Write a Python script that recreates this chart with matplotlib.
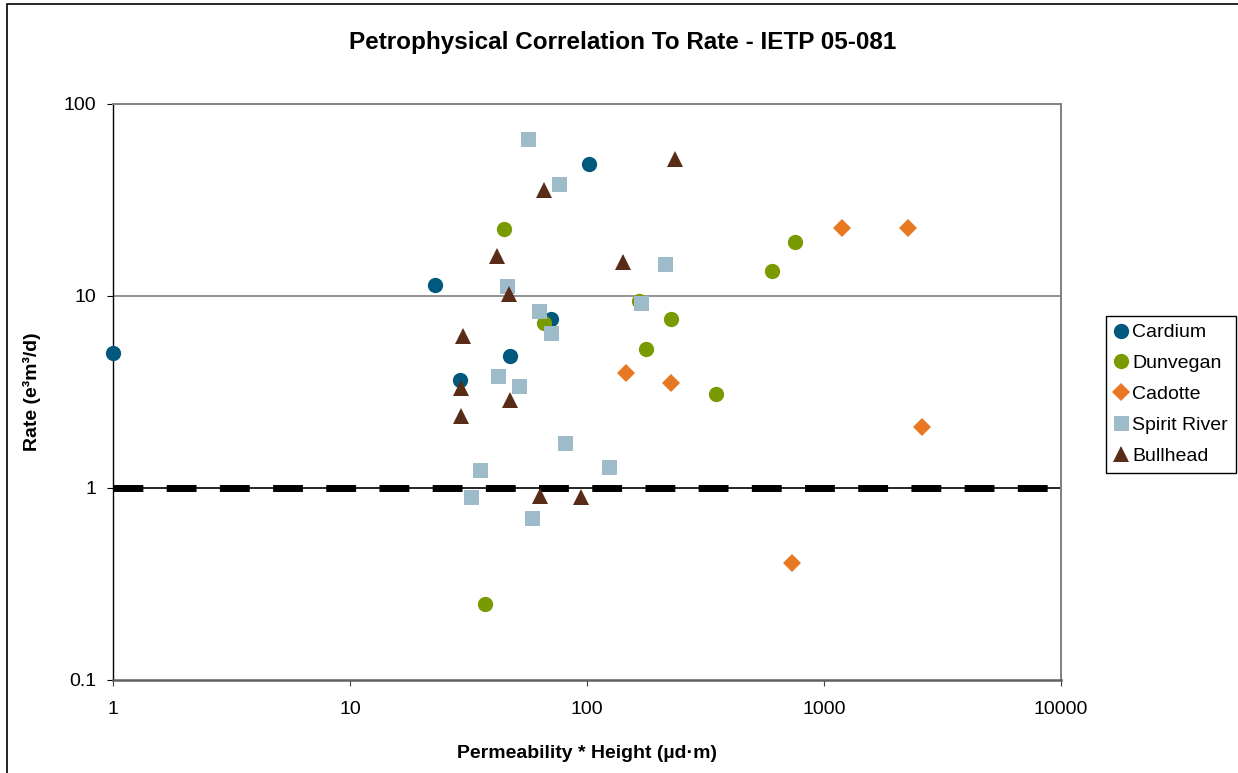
import numpy as np
import matplotlib
matplotlib.use("Agg")
import matplotlib.pyplot as plt
from matplotlib.patches import Rectangle

plt.rcParams['font.family'] = ['Liberation Sans', 'DejaVu Sans']

# (kh in ud-m, rate in e3m3/d)
cardium_x = [1.0, 22.8, 29.1, 47.3, 70.5, 102]
cardium_y = [5.05, 11.4, 3.65, 4.87, 7.59, 48.7]

dunvegan_x = [44.8, 65.9, 166, 226, 177, 350, 604, 755, 37.1]
dunvegan_y = [22.3, 7.23, 9.42, 7.59, 5.3, 3.09, 13.5, 19.1, 0.249]

cadotte_x = [146, 226, 733, 1191, 2262, 2592]
cadotte_y = [3.97, 3.52, 0.407, 22.6, 22.6, 2.08]

spirit_x = [56.4, 76.2, 46.0, 213, 169, 62.7, 70.5, 42.1, 51.6, 80.8, 35.4, 124, 32.4, 58.6]
spirit_y = [65.7, 38.3, 11.3, 14.7, 9.2, 8.36, 6.42, 3.83, 3.40, 1.72, 1.24, 1.29, 0.898, 0.698]

bull_x = [235, 65.9, 41.7, 142, 46.9, 30.0, 29.4, 47.3, 29.4, 63.4, 94.3]
bull_y = [51.7, 35.6, 16.2, 15.0, 10.2, 6.19, 3.32, 2.87, 2.37, 0.909, 0.898]

cutoff_x = [1, 10000]
cutoff_y = [1, 1]

xticks = [1, 10, 100, 1000, 10000]
yticks = [0.1, 1, 10, 100]

W, H = 1238, 773
fig = plt.figure(figsize=(W / 100, H / 100), dpi=100)
ax = fig.add_axes([113 / W, 1 - 680 / H, 948 / W, 576 / H])

# outer chart border (only left and top show)
fig.patches.append(Rectangle((7 / W, -0.1), 1.2, 1.1 - 4 / H, transform=fig.transFigure,
                             fill=False, edgecolor='black', linewidth=1.2))

ax.set_xscale('log')
ax.set_yscale('log')
ax.set_xlim(1, 10000)
ax.set_ylim(0.1, 100)

for y in [10]:
    ax.axhline(y, color='#808080', linewidth=1.2, zorder=1)

# 1 e3m3/d cutoff line
ax.plot(cutoff_x, cutoff_y, color='black', linewidth=1.2, zorder=2)
ax.plot([1, 9000], cutoff_y, color='black', linewidth=5.0, linestyle=(0, (4.3, 3.36)),
        solid_capstyle='butt', dash_capstyle='butt', zorder=2)

ax.plot(cardium_x, cardium_y, 'o', color='#00587C', markersize=11, markeredgewidth=0,
        label='Cardium', zorder=3, clip_on=False)
ax.plot(dunvegan_x, dunvegan_y, 'o', color='#7A9A01', markersize=11, markeredgewidth=0,
        label='Dunvegan', zorder=3)
ax.plot(cadotte_x, cadotte_y, 'D', color='#E87722', markersize=9.6, markeredgewidth=0,
        label='Cadotte', zorder=3)
ax.plot(spirit_x, spirit_y, 's', color='#9DBBC9', markersize=10.8, markeredgewidth=0,
        label='Spirit River', zorder=3)
ax.plot(bull_x, bull_y, '^', color='#582C17', markersize=12, markeredgewidth=0,
        label='Bullhead', zorder=3)

ax.set_xticks(xticks)
ax.set_xticklabels([str(t) for t in xticks])
ax.set_yticks(yticks)
ax.set_yticklabels(['0.1', '1', '10', '100'])
ax.minorticks_off()
ax.tick_params(axis='both', labelsize=14, length=4.3, width=0.8, direction='out')
ax.tick_params(axis='x', pad=11, color='#404040')
ax.tick_params(axis='y', pad=8, color='black')

for side in ['top', 'right']:
    ax.spines[side].set_color('#808080')
    ax.spines[side].set_linewidth(1.4)
ax.spines['bottom'].set_color('#606060')
ax.spines['bottom'].set_linewidth(1.8)
ax.spines['left'].set_color('black')
ax.spines['left'].set_linewidth(1.0)

ax.set_xlabel('Permeability * Height (µd·m)', fontsize=14, fontweight='bold')
ax.set_ylabel('Rate (e³m³/d)', fontsize=14, fontweight='bold')
ax.xaxis.set_label_coords(0.5, -(745 - 680) / 576)
ax.yaxis.set_label_coords(-(113 - 41) / 948, 0.5)

fig.text(623 / W, 1 - 42 / H, 'Petrophysical Correlation To Rate - IETP 05-081',
         fontsize=17.5, fontweight='bold', ha='center', va='center')

leg = ax.legend(loc='upper left', bbox_to_anchor=(1106 / W, 1 - 316 / H),
                bbox_transform=fig.transFigure, fontsize=14, frameon=True, fancybox=False,
                edgecolor='black', framealpha=1, borderpad=0.4, labelspacing=0.68,
                handlelength=0.7, handletextpad=0.25, borderaxespad=0)
leg.get_frame().set_linewidth(1.0)

fig.savefig('out.png', dpi=100)
